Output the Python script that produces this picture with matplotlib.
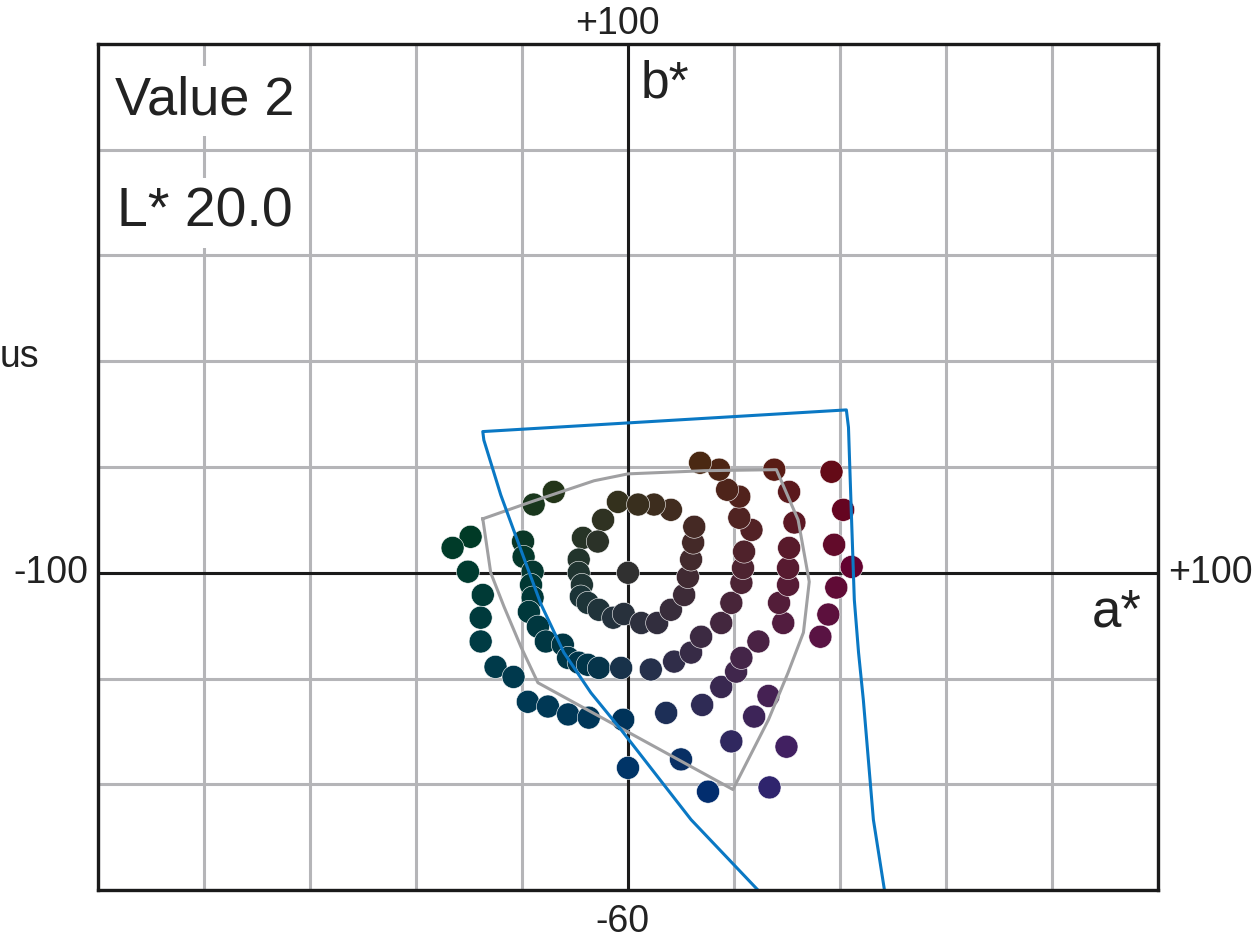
import matplotlib
matplotlib.use("Agg")
import matplotlib.pyplot as plt
import numpy as np

plt.rcParams['font.family'] = ['Liberation Sans', 'DejaVu Sans']

# dot positions (a*, b*), ring by ring
ring1_a = [-1.9, -4.7, -8.5, -5.7, -9.3, -9.3, -8.7, -8.9, -7.6, -5.5, -2.8, -0.8,
           2.5, 5.5, 8.1, 10.6, 11.3, 11.9, 12.3, 12.5, 8.1, 4.9, 1.9]
ring1_b = [13.4, 10.0, 6.6, 5.9, 2.5, 0.0, -2.3, -4.5, -5.7, -7.0, -8.5, -7.8,
           -9.5, -9.5, -7.0, -4.2, -0.8, 2.5, 5.7, 8.7, 11.9, 12.9, 12.9]

ring2_a = [-14.0, -17.8, -19.8, -19.7, -18.0, -18.3, -18.0, -18.7, -17.0, -15.5,
           -12.3, -11.3, -9.3, -7.6, -5.5, -1.3, 4.3, 8.7, 11.9, 13.8, 17.6, 19.5,
           21.4, 21.7, 21.9, 23.3, 21.0, 21.0, 18.7, 17.2, 13.6]
ring2_b = [15.3, 12.9, 5.9, 3.0, 0.2, -2.3, -4.7, -7.4, -10.2, -13.0,
           -13.6, -16.1, -17.0, -17.4, -18.0, -18.0, -18.3, -16.8, -15.1, -12.1, -9.5, -5.7,
           -1.9, 0.9, 4.0, 8.1, 10.4, 14.4, 15.7, 19.5, 20.8]

ring3_a = [-29.7, -33.1, -30.2, -27.4, -27.8, -27.8, -25.0, -21.6, -18.9, -15.1,
           -11.3, -7.4, -0.9, 7.2, 14.0, 17.6, 20.4, 21.4, 24.6, 29.3, 28.5, 30.2,
           30.2, 30.4, 31.4, 30.4, 27.6]
ring3_b = [6.8, 4.7, 0.2, -4.2, -8.5, -13.0, -17.8, -19.7, -24.4, -25.3,
           -26.8, -27.4, -27.8, -26.5, -25.0, -21.6, -18.7, -16.1, -13.0, -9.5, -5.7, -2.3,
           0.9, 4.7, 9.5, 15.3, 19.5]

ring4_a = [0.0, 10.0, 19.5, 23.8, 26.5, 36.3, 37.8, 39.3, 38.9, 38.4]
ring4_b = [-36.9, -35.3, -31.9, -27.2, -23.3, -12.1, -7.9, -2.8, 5.3, 19.1]

ring5_a = [15.1, 29.9, 26.7, 42.2, 40.6]
ring5_b = [-41.4, -32.9, -40.6, 1.1, 11.9]

center_a = [0.0]
center_b = [0.0]

# gray gamut outline
gray_a = [-27.4, -18.3, -6.4, 0.0, 14.4, 28.0, 32.1, 34.2, 33.1, 30.2, 26.5, 19.8,
          -17.0, -20.2, -23.4, -25.9, -27.4]
gray_b = [10.2, 13.4, 17.4, 18.7, 19.3, 19.5, 10.0, -1.7, -11.3, -18.9, -27.8, -41.0,
          -20.8, -14.0, -6.4, 0.0, 10.2]

# blue boundary
blue_a = [24.6, 11.9, 5.3, -1.3, -7.0, -12.1, -16.4, -20.2, -24.0, -27.2, -27.4,
          41.2, 41.6, 41.8, 42.1, 42.7, 43.5, 44.4, 46.3, 48.4]
blue_b = [-60.1, -46.7, -38.2, -29.7, -22.7, -15.1, -6.0, 4.3, 14.7, 25.1, 26.7,
          30.8, 27.5, 21.4, 12.5, -5.1, -15.1, -24.0, -46.7, -60.1]

L_value = 20.0


def lab_to_rgb(L, a, b):
    fy = (L + 16) / 116
    fx = fy + a / 500
    fz = fy - b / 200

    def finv(t):
        return np.where(t ** 3 > 0.008856, t ** 3, (t - 16 / 116) / 7.787)
    X = 0.95047 * finv(fx)
    Y = finv(fy)
    Z = 1.08883 * finv(fz)
    r = 3.2406 * X - 1.5372 * Y - 0.4986 * Z
    g = -0.9689 * X + 1.8758 * Y + 0.0415 * Z
    bl = 0.0557 * X - 0.2040 * Y + 1.0570 * Z
    rgb = np.stack([r, g, bl], axis=-1)
    rgb = np.clip(rgb, 0, 1)
    rgb = np.where(rgb > 0.0031308, 1.055 * rgb ** (1 / 2.4) - 0.055, 12.92 * rgb)
    return np.clip(rgb, 0, 1)


dots_a = np.array(ring1_a + ring2_a + ring3_a + ring4_a + ring5_a + center_a)
dots_b = np.array(ring1_b + ring2_b + ring3_b + ring4_b + ring5_b + center_b)
colors = lab_to_rgb(L_value, dots_a, dots_b)

fig = plt.figure(figsize=(12.56, 9.42), dpi=100)
ax = fig.add_axes([98 / 1256, 52 / 942, 1060 / 1256, 846 / 942])

ax.set_xlim(-100, 100)
ax.set_ylim(-60, 100)
ax.set_xticks(np.arange(-100, 101, 20))
ax.set_yticks(np.arange(-60, 101, 20))
ax.tick_params(length=0, labelbottom=False, labelleft=False)
ax.grid(True, color='#b5b5b8', lw=2.2, zorder=0)
ax.set_axisbelow(True)
for s in ax.spines.values():
    s.set_linewidth(2.4)
    s.set_color('#1a1a1a')
    s.set_zorder(10)

ax.axhline(0, color='#1a1a1a', lw=2.2, zorder=1)
ax.axvline(0, color='#1a1a1a', lw=2.2, zorder=1)

ax.scatter(dots_a, dots_b, s=275, c=colors, edgecolors='white', linewidths=0.4, zorder=3)
ax.plot(gray_a, gray_b, color='#a0a0a2', lw=2.2, zorder=4)
ax.plot(blue_a, blue_b, color='#0a78c4', lw=2.2, zorder=5)

box = dict(facecolor='white', edgecolor='none', pad=7)
ax.text(-96.8, 86.6, 'Value 2', fontsize=39, color='#222222', va='baseline', bbox=box, zorder=6)
ax.text(-96.5, 65.4, 'L* 20.0', fontsize=40, color='#222222', va='baseline', bbox=box, zorder=6)
ax.text(2.3, 89.8, 'b*', fontsize=37, color='#222222', va='baseline', zorder=6)
ax.text(97.0, -10.2, 'a*', fontsize=38, color='#222222', va='baseline', ha='right', zorder=6)

ax.text(-2, 101.8, '+100', fontsize=27, color='#222222', ha='center', va='baseline', clip_on=False)
ax.text(-1, -68.0, '-60', fontsize=27, color='#222222', ha='center', va='baseline', clip_on=False)
ax.text(-101.9, 0, '-100', fontsize=27, color='#222222', ha='right', va='center', clip_on=False)
ax.text(102.0, 0, '+100', fontsize=27, color='#222222', ha='left', va='center', clip_on=False)
fig.text(0 / 1256, 1 - 357 / 942, 'us', fontsize=27, color='#222222', ha='left', va='center')

fig.savefig('out.png', dpi=100)
